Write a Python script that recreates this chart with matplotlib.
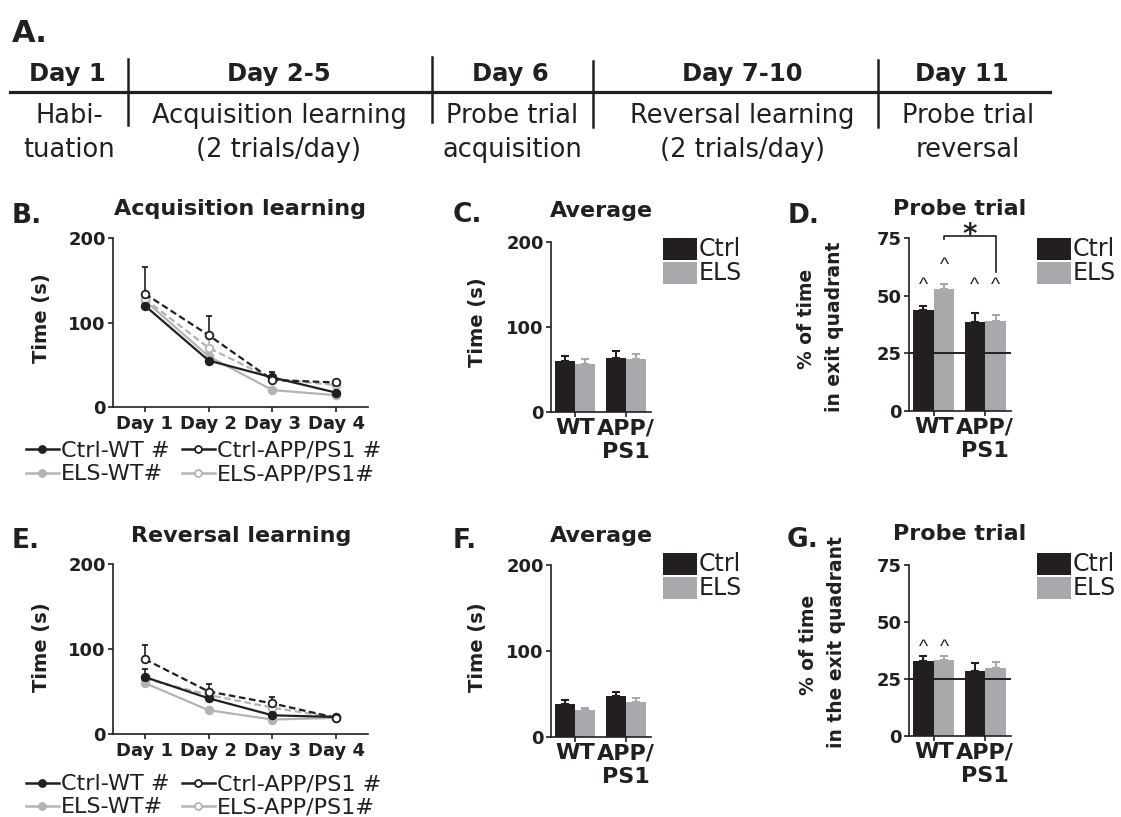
"""Barnes maze figure: timeline, learning curves, averages and probe trials."""
import matplotlib
matplotlib.use("Agg")
import matplotlib.pyplot as plt
import matplotlib.transforms as mtransforms
from matplotlib.lines import Line2D
from matplotlib.patches import Rectangle
import numpy as np

W, H = 1121, 817
BLACK = "#231f20"
GRAY = "#a7a9ac"
LINE_GRAY = "#b1b3b6"

# timeline (panel A)
headers = ["Day 1", "Day 2-5", "Day 6", "Day 7-10", "Day 11"]
descriptions = ["Habi-\ntuation", "Acquisition learning\n(2 trials/day)",
                "Probe trial\nacquisition", "Reversal learning\n(2 trials/day)",
                "Probe trial\nreversal"]

# learning curves, time (s)
days = ["Day 1", "Day 2", "Day 3", "Day 4"]
acq_ctrl_wt = [120, 55, 35, 17]
acq_ctrl_wt_err = [4, 6, 6, 2]
acq_ctrl_app = [134, 85, 32, 29]
acq_ctrl_app_err = [32, 23, 4, 3]
acq_els_wt = [126, 60, 20, 14]
acq_els_wt_err = [3, 5, 2, 2]
acq_els_app = [128, 70, 33, 26]
acq_els_app_err = [5, 10, 4, 3]

rev_ctrl_wt = [67, 42, 22, 20]
rev_ctrl_wt_err = [9, 4, 3, 2]
rev_ctrl_app = [88, 50, 36, 19]
rev_ctrl_app_err = [17, 9, 7, 2]
rev_els_wt = [60, 28, 17, 19]
rev_els_wt_err = [3, 2, 2, 2]
rev_els_app = [65, 46, 31, 19]
rev_els_app_err = [4, 5, 4, 2]

legend_labels = ["Ctrl-WT #", "Ctrl-APP/PS1 #", "ELS-WT#", "ELS-APP/PS1#"]

# bar panels
genotypes = ["WT", "APP/\nPS1"]
acq_avg_ctrl = [59.5, 64]
acq_avg_ctrl_err = [6.3, 8]
acq_avg_els = [56, 62]
acq_avg_els_err = [6.6, 6.5]
acq_probe_ctrl = [43.7, 38.7]
acq_probe_ctrl_err = [1.8, 3.7]
acq_probe_els = [52.7, 39.1]
acq_probe_els_err = [2.5, 2.5]
rev_avg_ctrl = [38, 47.4]
rev_avg_ctrl_err = [5.5, 5]
rev_avg_els = [31, 40.4]
rev_avg_els_err = [2.8, 5]
rev_probe_ctrl = [33, 28.6]
rev_probe_ctrl_err = [2.2, 3.6]
rev_probe_els = [33.3, 30]
rev_probe_els_err = [1.9, 2.4]
chance = 25

# "^" marks: (bar position, height)
acq_probe_marks = [(-0.2, 56.7), (0.2, 65.7), (0.8, 56.7), (1.2, 56.7)]
rev_probe_marks = [(-0.2, 41.3), (0.2, 41.3)]

fig = plt.figure(figsize=(W / 100, H / 100), dpi=100)
# pixel coordinates, origin at top-left
px = mtransforms.Affine2D().scale(1 / W, -1 / H).translate(0, 1) + fig.transFigure


def px_axes(left, top, right, bottom):
    return fig.add_axes([left / W, 1 - bottom / H, (right - left) / W, (bottom - top) / H])


def style(ax):
    for s in ("top", "right"):
        ax.spines[s].set_visible(False)
    for s in ("left", "bottom"):
        ax.spines[s].set_linewidth(1.2)
        ax.spines[s].set_color(BLACK)
    ax.tick_params(direction="out", length=3.6, width=1.2, colors=BLACK, pad=1.5)


def ftext(x, y, s, **kw):
    kw.setdefault("color", BLACK)
    return fig.text(x, y, s, transform=px, **kw)


def panel_letter(x, y, s, size=19):
    ftext(x, y, s, fontsize=size, fontweight="bold", va="baseline")


def rot_label(x, y, s, size=14):
    ftext(x, y, s, fontsize=size, fontweight="bold", rotation=90, ha="center", va="center")


# ---- panel A: timeline
panel_letter(12, 41.7, "A.", size=22)
header_x = [67, 279, 510, 742, 962]
desc_x = [69, 279, 512, 742, 968]
for hx, h in zip(header_x, headers):
    ftext(hx, 81.5, h, fontsize=17.5, fontweight="bold", ha="center", va="baseline")
for dx, d in zip(desc_x, descriptions):
    for k, line in enumerate(d.split("\n")):
        ftext(dx, 123.3 + 33.4 * k, line, fontsize=18.5, ha="center", va="baseline")
fig.add_artist(Line2D([10, 1050], [91.7, 91.7], transform=px, color=BLACK, lw=2.3))
for sx, (y0, y1) in zip([127.7, 432, 592.7, 878], [(59, 125), (57, 122), (61, 127), (60, 127)]):
    fig.add_artist(Line2D([sx, sx], [y0, y1], transform=px, color=BLACK, lw=1.8))


# ---- line panels
def line_panel(box, series, title, title_xy, ylabel_xy):
    ax = px_axes(*box)
    style(ax)
    x = np.arange(1, len(days) + 1)
    for vals, errs, color, dashed, filled in series:
        ax.errorbar(x, vals, yerr=[np.zeros(len(errs)), errs], color=color,
                    ls=(0, (3, 1.6)) if dashed else "-", lw=1.6, marker="o", ms=5.5,
                    mfc=color if filled else "white", mec=color, mew=1.3,
                    capsize=2, elinewidth=1.2, capthick=1.2)
    ax.set_xlim(0.5, 4.5)
    ax.set_ylim(0, 200)
    ax.set_xticks(x)
    ax.set_xticklabels(days, fontsize=13, fontweight="bold")
    ax.set_yticks([0, 100, 200])
    ax.set_yticklabels(["0", "100", "200"], fontsize=13, fontweight="bold")
    ax.tick_params(axis="x", pad=2.5)
    ftext(*title_xy, title, fontsize=16, fontweight="bold", ha="center", va="baseline")
    rot_label(*ylabel_xy, "Time (s)")
    return ax


def line_legend(row1, row2):
    specs = [(legend_labels[0], BLACK, True, 26, row1),
             (legend_labels[1], BLACK, False, 182, row1),
             (legend_labels[2], LINE_GRAY, True, 26, row2),
             (legend_labels[3], LINE_GRAY, False, 182, row2)]
    for label, color, filled, x0, y in specs:
        fig.add_artist(Line2D([x0, x0 + 33], [y, y], transform=px, color=color, lw=1.8))
        fig.add_artist(Line2D([x0 + 16], [y], transform=px, marker="o", ms=5,
                              mfc=color if filled else "white", mec=color, mew=1.3,
                              color=color))
        ftext(x0 + 35, y + 7.4, label, fontsize=16, va="baseline")


acq_series = [(acq_els_wt, acq_els_wt_err, LINE_GRAY, False, True),
              (acq_els_app, acq_els_app_err, LINE_GRAY, True, False),
              (acq_ctrl_wt, acq_ctrl_wt_err, BLACK, False, True),
              (acq_ctrl_app, acq_ctrl_app_err, BLACK, True, False)]
rev_series = [(rev_els_wt, rev_els_wt_err, LINE_GRAY, False, True),
              (rev_els_app, rev_els_app_err, LINE_GRAY, True, False),
              (rev_ctrl_wt, rev_ctrl_wt_err, BLACK, False, True),
              (rev_ctrl_app, rev_ctrl_app_err, BLACK, True, False)]

line_panel((113, 238, 368, 407), acq_series, "Acquisition learning", (240, 215), (41, 318))
panel_letter(12, 223, "B.")
line_legend(449.3, 472.7)

line_panel((113, 564, 368, 734), rev_series, "Reversal learning", (241, 541.7), (41, 647))
panel_letter(12, 548, "E.")
line_legend(782.7, 806)


# ---- bar panels
def bar_panel(box, ctrl, ctrl_err, els, els_err, ymax, yticks):
    ax = px_axes(*box)
    style(ax)
    x = np.arange(len(genotypes))
    for vals, errs, color, off in [(ctrl, ctrl_err, BLACK, -0.2), (els, els_err, GRAY, 0.2)]:
        ax.bar(x + off, vals, width=0.4, color=color, lw=0, zorder=2)
        ax.errorbar(x + off, vals, yerr=[np.zeros(len(errs)), errs], fmt="none",
                    ecolor=color, elinewidth=1.5, capsize=3, capthick=1.5, zorder=1)
    ax.set_xlim(-0.48, 1.5)
    ax.set_ylim(0, ymax)
    ax.set_xticks(x)
    ax.set_xticklabels(genotypes, fontsize=16, fontweight="bold", linespacing=1.2)
    ax.set_yticks(yticks)
    ax.set_yticklabels([str(t) for t in yticks], fontsize=13, fontweight="bold")
    ax.tick_params(axis="x", pad=1)
    return ax


def box_legend(x0, top):
    for k, (label, color) in enumerate([("Ctrl", BLACK), ("ELS", GRAY)]):
        y = top + 24 * k
        fig.add_artist(Rectangle((x0, y), 34, 22, transform=px, color=color, lw=0))
        ftext(x0 + 36, y + 18.5, label, fontsize=17, va="baseline")


def caret(ax, marks):
    for bx, by in marks:
        ax.annotate("^", xy=(bx, by), xytext=(0, -0.525 * 14), textcoords="offset points",
                    ha="center", va="baseline", fontsize=14, family="Liberation Sans",
                    color=BLACK, annotation_clip=False)


# C
bar_panel((551, 242, 651, 412), acq_avg_ctrl, acq_avg_ctrl_err, acq_avg_els,
          acq_avg_els_err, 200, [0, 100, 200])
panel_letter(453, 222, "C.")
ftext(601, 216.7, "Average", fontsize=16, fontweight="bold", ha="center", va="baseline")
rot_label(478, 322, "Time (s)")
box_legend(663, 238)

# F
bar_panel((551, 565, 651, 737), rev_avg_ctrl, rev_avg_ctrl_err, rev_avg_els,
          rev_avg_els_err, 200, [0, 100, 200])
panel_letter(453, 548, "F.")
ftext(601, 541.7, "Average", fontsize=16, fontweight="bold", ha="center", va="baseline")
rot_label(478, 647, "Time (s)")
box_legend(663, 553)

# D
axd = bar_panel((909, 238, 1011, 411), acq_probe_ctrl, acq_probe_ctrl_err, acq_probe_els,
                acq_probe_els_err, 75, [0, 25, 50, 75])
axd.axhline(chance, color=BLACK, lw=1.4, zorder=3)
caret(axd, acq_probe_marks)
axd.plot([0.2, 0.2, 1.2, 1.2], [74.4, 75.8, 75.8, 60.4], color=BLACK, lw=1.2, clip_on=False)
axd.annotate("*", xy=(0.7, 79.8), xytext=(0, -0.59 * 20), textcoords="offset points",
             ha="center", va="baseline", fontsize=20, fontweight="bold", color=BLACK,
             annotation_clip=False)
panel_letter(788, 223, "D.")
ftext(960, 215, "Probe trial", fontsize=16, fontweight="bold", ha="center", va="baseline")
rot_label(807, 319, "% of time", size=13.5)
rot_label(835, 327, "in exit quadrant", size=13.5)
box_legend(1037, 238)

# G
axg = bar_panel((909, 565, 1011, 736), rev_probe_ctrl, rev_probe_ctrl_err, rev_probe_els,
                rev_probe_els_err, 75, [0, 25, 50, 75])
axg.axhline(chance, color=BLACK, lw=1.4, zorder=3)
caret(axg, rev_probe_marks)
panel_letter(787, 547, "G.")
ftext(960, 540, "Probe trial", fontsize=16, fontweight="bold", ha="center", va="baseline")
rot_label(808, 645, "% of time", size=13.5)
rot_label(837, 642, "in the exit quadrant", size=13.5)
box_legend(1037, 553)

fig.savefig("out.png", dpi=100)
